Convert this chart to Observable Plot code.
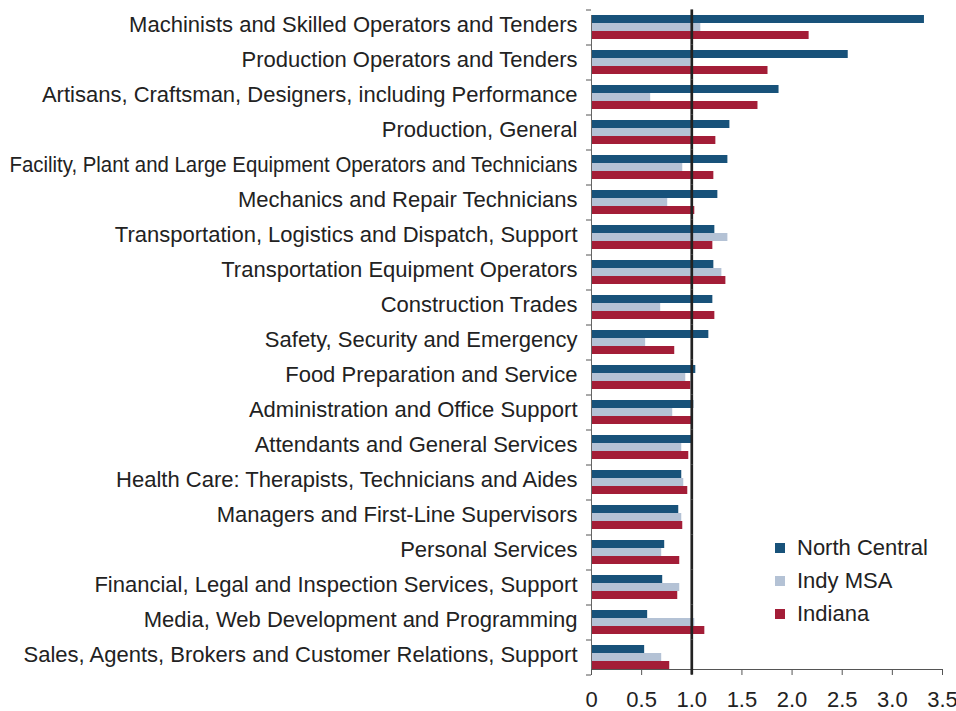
<!DOCTYPE html>
<html>
<head>
<meta charset="utf-8">
<script src="https://cdn.jsdelivr.net/npm/d3@7"></script>
<script src="https://cdn.jsdelivr.net/npm/@observablehq/plot@0.6"></script>
<style>
  html, body { margin: 0; padding: 0; background: #fff; }
  #wrap { position: relative; width: 956px; height: 711px; font-family: "Liberation Sans", Arial, Helvetica, sans-serif; }
  #legend { position: absolute; left: 775px; top: 531px; font-size: 22px; color: #222; }
  #legend .row { display: flex; align-items: center; height: 33px; }
  #legend .sw { width: 10px; height: 10px; margin-right: 12px; }
</style>
</head>
<body>
<div id="wrap"><div id="legend"></div></div>
<script>
const categories = [
  "Machinists and Skilled Operators and Tenders",
  "Production Operators and Tenders",
  "Artisans, Craftsman, Designers, including Performance",
  "Production, General",
  "Facility, Plant and Large Equipment Operators and Technicians",
  "Mechanics and Repair Technicians",
  "Transportation, Logistics and Dispatch, Support",
  "Transportation Equipment Operators",
  "Construction Trades",
  "Safety, Security and Emergency",
  "Food Preparation and Service",
  "Administration and Office Support",
  "Attendants and General Services",
  "Health Care: Therapists, Technicians and Aides",
  "Managers and First-Line Supervisors",
  "Personal Services",
  "Financial, Legal and Inspection Services, Support",
  "Media, Web Development and Programming",
  "Sales, Agents, Brokers and Customer Relations, Support"
];
const seriesNames = ["North Central", "Indy MSA", "Indiana"];
const seriesColors = ["#18527a", "#b4c2d5", "#a31d37"];
const northCentral = [3.32, 2.56, 1.87, 1.38, 1.36, 1.26, 1.23, 1.22, 1.21, 1.17, 1.04, 1.02, 1.00, 0.90, 0.87, 0.73, 0.71, 0.56, 0.53];
const indyMSA      = [1.09, 0.99, 0.59, 0.99, 0.91, 0.76, 1.36, 1.30, 0.69, 0.54, 0.94, 0.81, 0.90, 0.92, 0.90, 0.70, 0.88, 1.03, 0.70];
const indiana      = [2.17, 1.76, 1.66, 1.24, 1.22, 1.03, 1.21, 1.34, 1.23, 0.83, 0.99, 1.00, 0.97, 0.96, 0.91, 0.88, 0.86, 1.13, 0.78];
const xTicks = [0, 0.5, 1.0, 1.5, 2.0, 2.5, 3.0, 3.5];
const referenceValue = 1.0;

const seriesValues = [northCentral, indyMSA, indiana];
const data = [];
categories.forEach((c, i) => {
  seriesNames.forEach((s, j) => data.push({category: c, series: s, value: seriesValues[j][i]}));
});

const chart = Plot.plot({
  width: 956,
  height: 711,
  marginLeft: 591,
  marginRight: 14,
  marginTop: 10,
  marginBottom: 36,
  style: {fontFamily: "'Liberation Sans', Arial, Helvetica, sans-serif", fontSize: "22px", color: "#222", background: "#fff", overflow: "visible"},
  x: {domain: [0, 3.5]},
  y: {domain: seriesNames, padding: 0, axis: null},
  fy: {domain: categories, paddingInner: 0.314, paddingOuter: 0.157},
  color: {domain: seriesNames, range: seriesColors},
  marks: [
    Plot.barX(data, {fy: "category", y: "series", x: "value", fill: "series"}),
    Plot.axisFy({anchor: "left", tickSize: 0, tickPadding: 14, dy: -2.5, fontSize: 22, label: null, fill: "#222", ariaLabel: "category-labels"}),
    Plot.axisFy({anchor: "left", text: null, tickSize: 5, dy: -17.5, stroke: "#555", label: null}),
    Plot.axisFy({anchor: "left", ticks: [categories[categories.length - 1]], text: null, tickSize: 5, dy: 17.5, stroke: "#555", label: null}),
    Plot.axisX({ticks: xTicks, tickFormat: d => d === 0 ? "0" : d.toFixed(1), tickSize: 6, tickPadding: 16, fontSize: 22, stroke: "#555", fill: "#222", label: null}),
    Plot.frame({anchor: "left", stroke: "#666", facet: "super"}),
    Plot.frame({anchor: "bottom", stroke: "#555", facet: "super"}),
    Plot.ruleX([referenceValue], {stroke: "#222", strokeWidth: 2.7, insetTop: -5.6, insetBottom: -5.6})
  ]
});
document.getElementById("wrap").prepend(chart);

// The reference squeezes the longest category label to fit the margin
d3.select(chart).selectAll("text").each(function() {
  const t = d3.select(this);
  if (t.text().startsWith("Facility,")) {
    t.attr("textLength", 568).attr("lengthAdjust", "spacingAndGlyphs");
  }
});

const legend = d3.select("#legend");
seriesNames.forEach((s, j) => {
  const row = legend.append("div").attr("class", "row");
  row.append("div").attr("class", "sw").style("background", seriesColors[j]);
  row.append("span").text(s);
});
</script>
</body>
</html>
